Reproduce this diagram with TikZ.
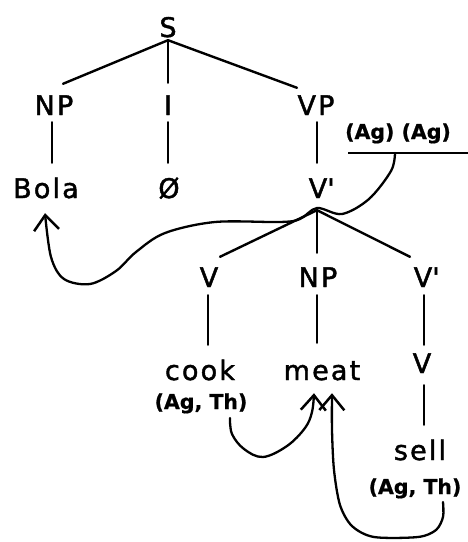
\documentclass[tikz,border=0pt]{standalone}
\usepackage{fontspec}
\setmainfont{DejaVu Sans}
\newfontfamily\labfont{DejaVu Sans}[LetterSpace=8, FakeBold=1.6]
\newfontfamily\rolefont{DejaVu Sans}[BoldFeatures={FakeBold=0.8}]
\usetikzlibrary{arrows.meta,calc}

\begin{document}
\begin{tikzpicture}[x=1pt,y=-1pt,
  lab/.style={font=\labfont\fontsize{27}{30}\selectfont, inner sep=0pt,
              text height=20pt, text depth=0pt, anchor=base},
  role/.style={font=\rolefont\bfseries\fontsize{20.5}{23}\selectfont, inner sep=0pt, anchor=base},
  branch/.style={line width=2.4pt, line cap=round},
  link/.style={line width=2.3pt, line cap=round, line join=round,
               -{Straight Barb[length=15pt,width=25pt,line width=2.5pt]}}]
\useasboundingbox (0,0) rectangle (468,542);

% tree labels
\node[lab] (S)     at (168,37)  {S};
\node[lab] (NPa)   at (54,115)  {NP};
\node[lab] (I)     at (168,115) {I};
\node[lab] (VP)    at (316,115) {VP};
\node[lab] (Bola)  at (46,198)  {Bola};
\node[lab] (null)  at (169,198) {Ø};
\node[lab] (Vbar)  at (318,198) {V\rlap{\textquotesingle}};
\node[lab] (V)     at (209,287) {V};
\node[lab] (NPb)   at (318,287) {NP};
\node[lab] (Vbarb) at (423,287) {V\rlap{\textquotesingle}};
\node[lab] (cook)  at (200,380) {cook};
\node[lab] (meat)  at (322,380) {meat};
\node[lab] (Vc)    at (422,373) {V};
\node[lab] (sell)  at (420,460) {sell};

% theta grids
\node[role] (agag)     at (398,139) {(Ag) (Ag)};
\node[role] (cookrole) at (201,409) {(Ag, Th)};
\node[role] (sellrole) at (415,494) {(Ag, Th)};

% branches from S
\coordinate (Sf) at ($(S.south)+(0,3)$);
\draw[branch] (Sf) -- ($(NPa.north)+(9,-11)$);
\draw[branch] (Sf) -- ($(I.north)+(0,-12)$);
\draw[branch] (Sf) -- ($(VP.north)+(-19,-7)$);

% unary branches
\draw[branch] ($(NPa.south)+(-2,7)$) -- ($(NPa.south |- Bola.north)+(-2,-15)$);
\draw[branch] ($(I.south)+(0,7)$) -- ($(I.south |- null.north)+(0,-15)$);
\draw[branch] ($(VP.south)+(1,7)$) -- ($(VP.south |- Vbar.north)+(1,-15)$);

% branches from V'
\coordinate (Vf) at ($(Vbar.south)+(-1,12)$);
\draw[branch] (Vf) -- ($(V.north)+(11,-10)$);
\draw[branch] (Vf) -- ($(NPb.north)+(-1,-14)$);
\draw[branch] (Vf) -- ($(Vbarb.north)+(-13,-10)$);

\draw[branch] ($(V.south)+(-1,8)$) -- ($(V.south |- cook.north)+(-1,-15)$);
\draw[branch] ($(NPb.south)+(-1,8)$) -- ($(NPb.south |- meat.north)+(-1,-17)$);
\draw[branch] ($(Vbarb.south)+(1,8)$) -- ($(Vbarb.south |- Vc.north)+(1,-8)$);
\draw[branch] ($(Vc.south)+(2,12)$) -- ($(Vc.south |- sell.north)+(2,-15)$);

% bar under the combined grid
\coordinate (barL) at ($(agag.base)+(-50,14)$);
\coordinate (barR) at ($(agag.base)+(70,14)$);
\coordinate (barM) at ($(agag.base)+(-3,14)$);
\draw[branch, line cap=butt] (barL) -- (barR);

% Ag linked to Bola
\draw[link] plot[smooth, tension=0.55] coordinates {
  (barM) (391,171) (369,199) (342,214) (317,208) (300,219) (280,222)
  (215,222) (165,233) (136,252) (116,271) (90,284) (64,279) (51,257)
  ($(Bola.south)+(-1,15)$)};

% Th of cook linked to meat
\draw[link] plot[smooth, tension=0.6] coordinates {
  ($(cookrole.base)+(29,9)$) (232,434) (244,449) (263,457) (287,446)
  (305,428) (312,412) ($(meat.south)+(-8,13)$)};

% Th of sell linked to meat
\draw[link] plot[smooth, tension=0.5] coordinates {
  ($(sellrole.base)+(28,8)$) (443,517) (436,530) (418,537) (374,537)
  (352,526) (340,505) (334,470) (332,430) ($(meat.south)+(10,13)$)};
\end{tikzpicture}
\end{document}
